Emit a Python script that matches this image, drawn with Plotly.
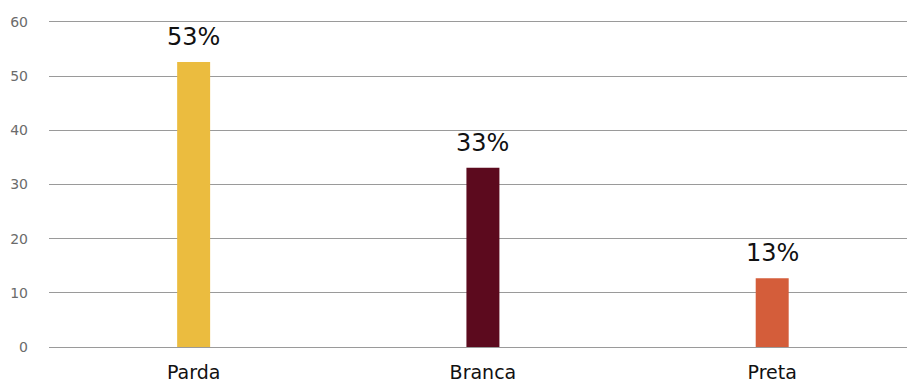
import plotly.graph_objects as go

categories = ["Parda", "Branca", "Preta"]
values = [52.6, 33.1, 12.7]
labels = ["53%", "33%", "13%"]
colors = ["#EBBC3F", "#5C0A1E", "#D45D3A"]
y_ticks = [0, 10, 20, 30, 40, 50, 60]

FONT = "DejaVu Sans"

fig = go.Figure()
fig.add_trace(go.Bar(
    x=categories, y=values, marker_color=colors, width=0.114,
    marker_line_width=0, hoverinfo="skip",
))
for c, v, t in zip(categories, values, labels):
    fig.add_annotation(x=c, y=v, text=t, showarrow=False, yanchor="bottom",
                       yshift=9, font=dict(size=24, color="#111111", family=FONT))

fig.update_layout(
    width=907, height=380,
    margin=dict(l=49, r=0, t=14, b=33, autoexpand=False),
    paper_bgcolor="white", plot_bgcolor="white",
    showlegend=False,
    font=dict(family=FONT),
)
fig.update_xaxes(range=[-0.5, 2.466], showgrid=False, zeroline=False, showline=False,
                 automargin=False,
                 ticks="", tickfont=dict(size=19, color="#111111"), ticklabelstandoff=12)
fig.update_yaxes(range=[0, 61.47], tickvals=y_ticks, showgrid=True, gridcolor="#9a9a9a",
                 automargin=False,
                 gridwidth=1.3, zeroline=True, zerolinecolor="#9a9a9a", zerolinewidth=1.3,
                 showline=False, ticks="", tickfont=dict(size=14, color="#6b6b6b"),
                 ticklabelstandoff=20)
fig.write_html("out.html",
               config={"displayModeBar": False},
               post_script="document.body.style.margin='0';document.body.style.overflow='hidden';")
